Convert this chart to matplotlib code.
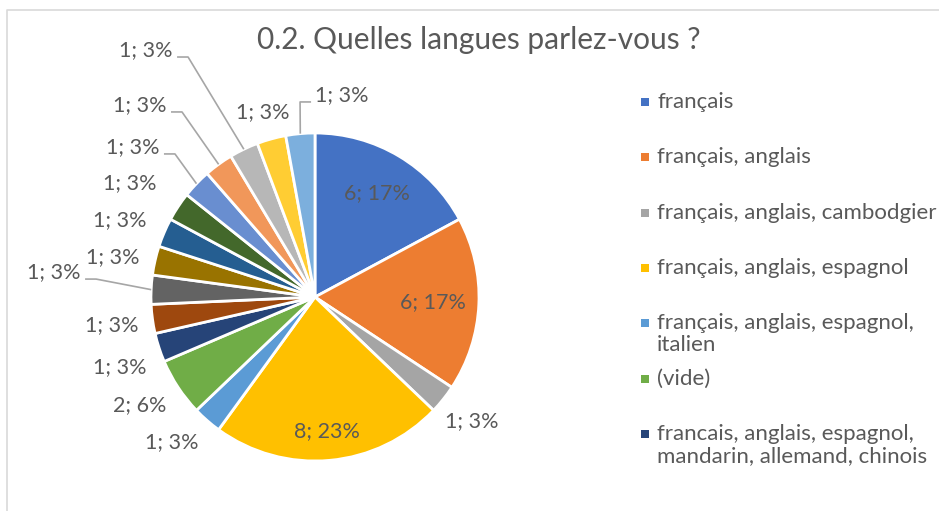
import numpy as np
import matplotlib
matplotlib.use("Agg")
from matplotlib import pyplot as plt
from matplotlib.patches import Rectangle

# Réponses à la question 0.2 (nombre de personnes par combinaison de langues)
categories = [
    "français",
    "français, anglais",
    "français, anglais, cambodgier",
    "français, anglais, espagnol",
    "français, anglais, espagnol, italien",
    "(vide)",
    "francais, anglais, espagnol, mandarin, allemand, chinois",
    "autre 1", "autre 2", "autre 3", "autre 4", "autre 5",
    "autre 6", "autre 7", "autre 8", "autre 9", "autre 10",
]
counts = [6, 6, 1, 8, 1, 2, 1, 1, 1, 1, 1, 1, 1, 1, 1, 1, 1]

# libellés de légende (retour à la ligne comme dans Excel)
legend_labels = [
    "français",
    "français, anglais",
    "français, anglais, cambodgier",
    "français, anglais, espagnol",
    "français, anglais, espagnol,\nitalien",
    "(vide)",
    "francais, anglais, espagnol,\nmandarin, allemand, chinois",
]

colors = [
    "#4472C4", "#ED7D31", "#A5A5A5", "#FFC000", "#5B9BD5", "#70AD47",
    "#264478", "#9E480E", "#636363", "#997300", "#255E91", "#43682B",
    "#698ED0", "#F1975A", "#B7B7B7", "#FFCD33", "#7CAFDD",
]

TXT = "#595959"
FONT = "Lato"
W, H = 939, 511
cx, cy, R = 315, H - 297, 164

fig = plt.figure(figsize=(W / 100, H / 100), dpi=100)
ax = fig.add_axes([0, 0, 1, 1])

# cadre du graphique
ax.plot([7, 7, W], [0, H - 10, H - 10], color="#D9D9D9", lw=1.2)

ax.pie(counts, colors=colors, startangle=90, counterclock=False,
       center=(cx, cy), radius=R, frame=True,
       wedgeprops=dict(edgecolor="white", linewidth=2))
ax.set_xlim(0, W)
ax.set_ylim(0, H)
ax.axis("off")

total = sum(counts)
labels = [f"{v}; {round(100 * v / total)}%" for v in counts]
mid = (np.cumsum(counts) - np.array(counts) / 2) / total * 2 * np.pi  # depuis le haut, sens horaire

# étiquettes internes : facteur de rayon le long de l'angle médian
inside = {0: 0.74, 1: 0.72, 3: 0.82}
# étiquettes externes : position en unités de rayon
outside = {
    2: (0.957, -0.756), 4: (-0.872, -0.884), 5: (-1.067, -0.659),
    6: (-1.189, -0.427), 7: (-1.238, -0.171), 8: (-1.591, 0.152),
    9: (-1.232, 0.244), 10: (-1.189, 0.470), 11: (-1.128, 0.695),
    12: (-1.110, 0.915), 13: (-1.067, 1.171), 14: (-1.030, 1.506),
    15: (-0.317, 1.128), 16: (0.165, 1.232),
}
leaders = [8, 12, 13, 14, 16]

for i, lab in enumerate(labels):
    if i in inside:
        f = inside[i]
        x, y = cx + f * R * np.sin(mid[i]), cy + f * R * np.cos(mid[i])
    else:
        dx, dy = outside[i]
        x, y = cx + dx * R, cy + dy * R
    ax.text(x, y, lab, ha="center", va="center", fontsize=15.5,
            color=TXT, family=FONT)
    if i in leaders:
        ex, ey = cx + R * np.sin(mid[i]), cy + R * np.cos(mid[i])
        side = 1 if ex > x else -1
        sx, sy = x + side * 31, y - 7
        ax.plot([sx, sx + side * 11, ex], [sy, sy, ey],
                color="#A6A6A6", lw=1.2, solid_capstyle="butt")

ax.text(479, H - 40, "0.2. Quelles langues parlez-vous ?", ha="center",
        va="center", fontsize=21.5, color=TXT, family=FONT)

# légende (seules les premières entrées tiennent dans le cadre)
for k, lab in enumerate(legend_labels):
    y = H - (102 + k * 55.3)
    ax.add_patch(Rectangle((641, y - 4), 8, 8, color=colors[k], lw=0))
    ax.text(657, y + 10, lab, ha="left", va="top", fontsize=16,
            color=TXT, family=FONT, linespacing=1.12)

fig.savefig("out.png", dpi=100)
